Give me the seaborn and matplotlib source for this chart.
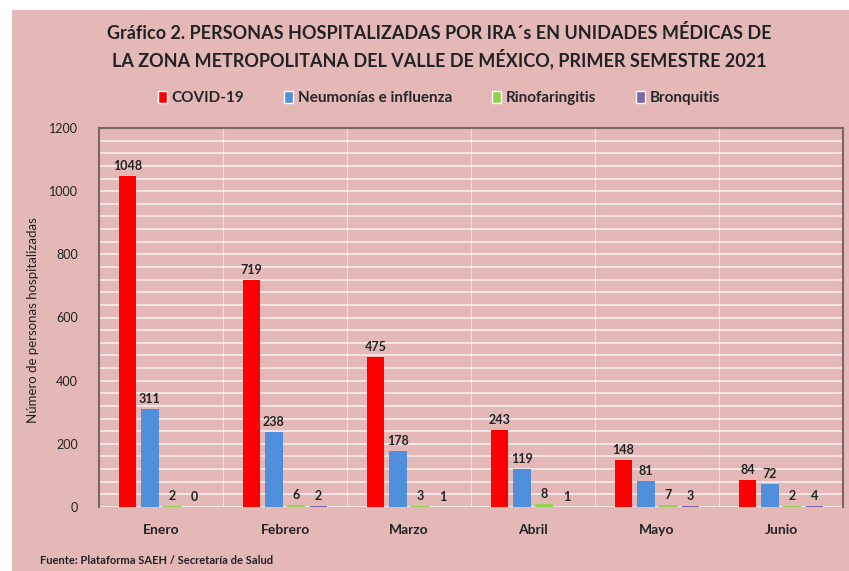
import pandas as pd
import matplotlib.pyplot as plt
import seaborn as sns
from matplotlib.patches import Rectangle
from matplotlib.ticker import MultipleLocator

# Data
meses = ["Enero", "Febrero", "Marzo", "Abril", "Mayo", "Junio"]
covid = [1048, 719, 475, 243, 148, 84]
neumonias = [311, 238, 178, 119, 81, 72]
rinofaringitis = [2, 6, 3, 8, 7, 2]
bronquitis = [0, 2, 1, 1, 3, 4]
series = ["COVID-19", "Neumonías e influenza", "Rinofaringitis", "Bronquitis"]
colores = ["#FF0000", "#4F8FDC", "#92D050", "#8064A2"]

df = pd.DataFrame({
    "mes": meses * 4,
    "valor": covid + neumonias + rinofaringitis + bronquitis,
    "serie": [s for s in series for _ in meses],
})

bg = "#E5B8B8"
sns.set_style("white")
plt.rcParams['font.family'] = ['Lato', 'DejaVu Sans']

fig = plt.figure(figsize=(8.49, 5.71), dpi=100, facecolor=bg)
# white margin on the left and top like the screenshot
fig.patches.append(Rectangle((0, 0), 12 / 849, 1, transform=fig.transFigure,
                             facecolor="white", edgecolor="none", zorder=0))
fig.patches.append(Rectangle((0, 1 - 10 / 571), 1, 10 / 571, transform=fig.transFigure,
                             facecolor="white", edgecolor="none", zorder=0))

ax = fig.add_axes([99 / 849, 1 - 507 / 571, 744 / 849, 379 / 571])
ax.set_facecolor(bg)

sns.barplot(data=df, x="mes", y="valor", hue="serie", hue_order=series,
            palette=colores, width=0.72, gap=0.2, saturation=1, linewidth=0,
            ax=ax, legend=False, zorder=3)

for cont in ax.containers:
    ax.bar_label(cont, padding=3, fontsize=9, fontweight="bold", color="#222222")

ax.set_ylim(0, 1200)
ax.set_xlim(-0.5, 5.5)
ax.yaxis.set_major_locator(MultipleLocator(200))
ax.yaxis.set_minor_locator(MultipleLocator(40))
ax.grid(axis="y", which="both", color="white", linewidth=1.3, alpha=0.7, zorder=0)
for xb in [0.5, 1.5, 2.5, 3.5, 4.5]:
    ax.axvline(xb, color="white", linewidth=0.8, alpha=0.5, zorder=0)

for side in ["left", "top", "right"]:
    ax.spines[side].set_color("#7A6464")
    ax.spines[side].set_linewidth(1.5)
ax.spines["bottom"].set_visible(False)

ax.set_xlabel("")
ax.set_ylabel("")
ax.tick_params(axis="y", which="both", length=0, labelsize=9, pad=15, labelcolor="#222222")
ax.tick_params(axis="x", length=0, labelsize=10, pad=12, labelcolor="#222222")
for lab in ax.get_xticklabels():
    lab.set_fontweight("bold")

fig.text(33 / 849, 1 - 320 / 571, "Número de personas hospitalizadas", rotation=90,
         ha="center", va="center", fontsize=9.5, color="#222222")

fig.text(439 / 849, 1 - 33 / 571, "Gráfico 2. PERSONAS HOSPITALIZADAS POR IRA´s EN UNIDADES MÉDICAS DE",
         ha="center", va="center", fontsize=13, fontweight="bold", color="#222222")
fig.text(439 / 849, 1 - 59 / 571, "LA ZONA METROPOLITANA DEL VALLE DE MÉXICO, PRIMER SEMESTRE 2021",
         ha="center", va="center", fontsize=13, fontweight="bold", color="#222222")

handles = [Rectangle((0, 0), 1, 1, facecolor=c) for c in colores]
fig.legend(handles, series, loc="center", bbox_to_anchor=(439 / 849, 1 - 98 / 571), ncol=4,
           frameon=False, handlelength=0.6, handleheight=0.9,
           handletextpad=0.3, columnspacing=2.6, prop={"weight": "bold", "size": 11})

fig.text(40 / 849, 1 - 561 / 571, "Fuente: Plataforma SAEH / Secretaría de Salud",
         ha="left", va="center", fontsize=8, fontweight="bold", color="#222222")

fig.savefig("out.png", dpi=100, facecolor=bg)
